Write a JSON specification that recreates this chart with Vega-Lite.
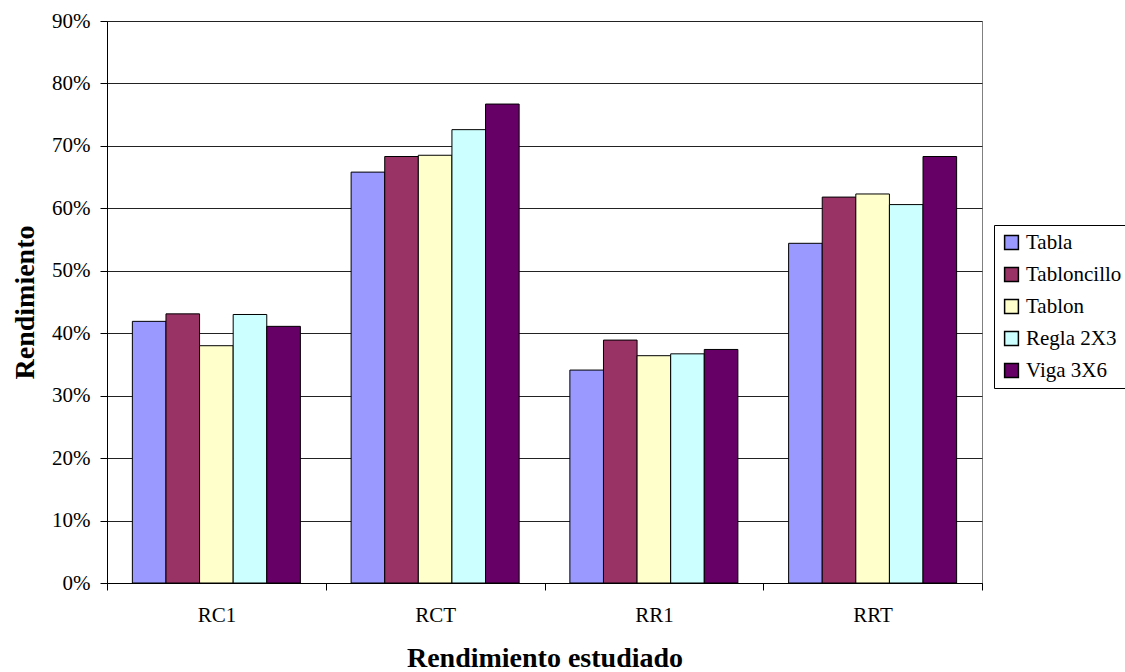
{
  "$schema": "https://vega.github.io/schema/vega-lite/v6.json",
  "autosize": {"type": "none"},
  "padding": {"left": 107, "top": 21, "right": 143, "bottom": 89},
  "width": 875,
  "height": 562,
  "background": "white",
  "config": {
    "font": "Liberation Serif",
    "style": {
      "guide-label": {"font": "Liberation Serif"},
      "guide-title": {"font": "Liberation Serif"}
    },
    "axis": {"labelFont": "Liberation Serif", "titleFont": "Liberation Serif"},
    "legend": {"labelFont": "Liberation Serif"},
    "view": {"stroke": "#808080", "strokeWidth": 1}
  },
  "data": {
    "values": [
      {"grupo": "RC1", "madera": "Tabla", "valor": 0.419},
      {"grupo": "RC1", "madera": "Tabloncillo", "valor": 0.431},
      {"grupo": "RC1", "madera": "Tablon", "valor": 0.380},
      {"grupo": "RC1", "madera": "Regla 2X3", "valor": 0.430},
      {"grupo": "RC1", "madera": "Viga 3X6", "valor": 0.411},
      {"grupo": "RCT", "madera": "Tabla", "valor": 0.658},
      {"grupo": "RCT", "madera": "Tabloncillo", "valor": 0.683},
      {"grupo": "RCT", "madera": "Tablon", "valor": 0.685},
      {"grupo": "RCT", "madera": "Regla 2X3", "valor": 0.726},
      {"grupo": "RCT", "madera": "Viga 3X6", "valor": 0.767},
      {"grupo": "RR1", "madera": "Tabla", "valor": 0.341},
      {"grupo": "RR1", "madera": "Tabloncillo", "valor": 0.389},
      {"grupo": "RR1", "madera": "Tablon", "valor": 0.364},
      {"grupo": "RR1", "madera": "Regla 2X3", "valor": 0.367},
      {"grupo": "RR1", "madera": "Viga 3X6", "valor": 0.374},
      {"grupo": "RRT", "madera": "Tabla", "valor": 0.544},
      {"grupo": "RRT", "madera": "Tabloncillo", "valor": 0.618},
      {"grupo": "RRT", "madera": "Tablon", "valor": 0.623},
      {"grupo": "RRT", "madera": "Regla 2X3", "valor": 0.606},
      {"grupo": "RRT", "madera": "Viga 3X6", "valor": 0.683}
    ]
  },
  "mark": {"type": "bar", "stroke": "#000", "strokeWidth": 1},
  "encoding": {
    "x": {
      "field": "grupo",
      "type": "nominal",
      "sort": ["RC1", "RCT", "RR1", "RRT"],
      "scale": {"paddingInner": 0, "paddingOuter": 0},
      "axis": {
        "title": "Rendimiento estudiado",
        "titleFontSize": 28,
        "titleFontWeight": "bold",
        "titleColor": "#000",
        "titlePadding": 19,
        "labelAngle": 0,
        "labelFontSize": 21,
        "labelColor": "#000",
        "labelPadding": 14,
        "tickBand": "extent",
        "tickColor": "#000",
        "tickSize": 7,
        "domainColor": "#000"
      }
    },
    "xOffset": {
      "field": "madera",
      "type": "nominal",
      "sort": ["Tabla", "Tabloncillo", "Tablon", "Regla 2X3", "Viga 3X6"],
      "scale": {"paddingInner": 0, "paddingOuter": 0.755}
    },
    "y": {
      "field": "valor",
      "type": "quantitative",
      "scale": {"domain": [0, 0.9], "nice": false},
      "axis": {
        "title": "Rendimiento",
        "titleFontSize": 28,
        "titleFontWeight": "bold",
        "titleColor": "#000",
        "titlePadding": 12,
        "format": ".0%",
        "values": [0, 0.1, 0.2, 0.3, 0.4, 0.5, 0.6, 0.7, 0.8, 0.9],
        "labelFontSize": 21,
        "labelColor": "#000",
        "labelPadding": 10,
        "tickColor": "#000",
        "tickSize": 7,
        "domainColor": "#000",
        "grid": true,
        "gridColor": "#222",
        "gridWidth": 1
      }
    },
    "fill": {
      "field": "madera",
      "type": "nominal",
      "sort": ["Tabla", "Tabloncillo", "Tablon", "Regla 2X3", "Viga 3X6"],
      "scale": {
        "domain": ["Tabla", "Tabloncillo", "Tablon", "Regla 2X3", "Viga 3X6"],
        "range": ["#9999FF", "#993366", "#FFFFCC", "#CCFFFF", "#660066"]
      },
      "legend": {
        "title": null,
        "orient": "none",
        "legendX": 887,
        "legendY": 204,
        "padding": 7,
        "strokeColor": "#000",
        "fillColor": "#fff",
        "symbolType": "square",
        "symbolSize": 190,
        "symbolStrokeColor": "#000",
        "symbolStrokeWidth": 1.5,
        "labelFont": "Liberation Serif",
        "labelFontSize": 21,
        "labelColor": "#000",
        "labelOffset": 4,
        "rowPadding": 10,
        "encode": {
          "labels": {
            "update": {"font": {"value": "Liberation Serif"}}
          }
        }
      }
    }
  }
}
